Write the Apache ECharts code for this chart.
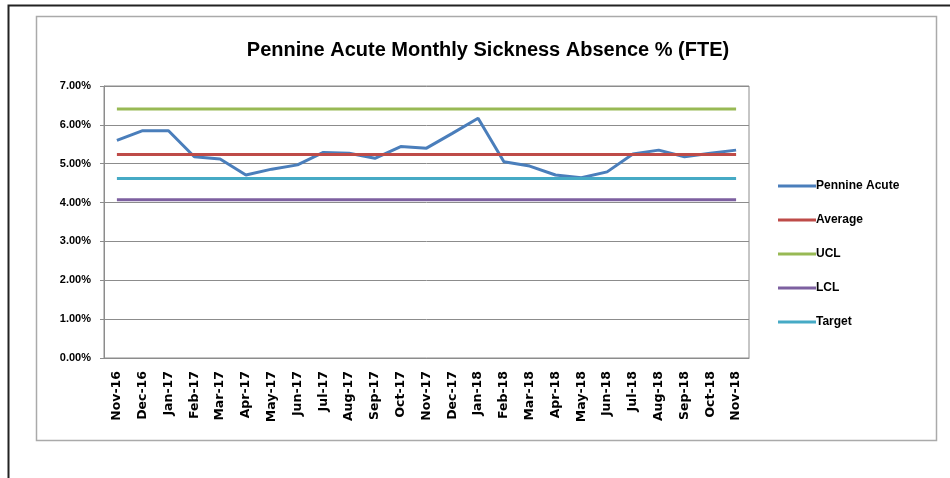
<!DOCTYPE html>
<html>
<head>
<meta charset="utf-8">
<script src="https://cdn.jsdelivr.net/npm/echarts@6/dist/echarts.min.js"></script>
<style>
  html, body { margin: 0; padding: 0; background: #fff; }
  #chart { width: 950px; height: 478px; }
</style>
</head>
<body>
<div id="chart"></div>
<script>
const MONTHS = [
  "Nov-16", "Dec-16", "Jan-17", "Feb-17", "Mar-17", "Apr-17", "May-17", "Jun-17",
  "Jul-17", "Aug-17", "Sep-17", "Oct-17", "Nov-17", "Dec-17", "Jan-18", "Feb-18",
  "Mar-18", "Apr-18", "May-18", "Jun-18", "Jul-18", "Aug-18", "Sep-18", "Oct-18", "Nov-18",
];

// monthly sickness absence, percent
const PENNINE_ACUTE = [
  5.60, 5.85, 5.85, 5.18, 5.12, 4.71, 4.86, 4.97,
  5.29, 5.27, 5.14, 5.44, 5.40, 5.78, 6.17, 5.05,
  4.94, 4.71, 4.64, 4.79, 5.25, 5.35, 5.18, 5.27, 5.35,
];

const AVERAGE = 5.24;
const UCL = 6.41;
const LCL = 4.07;
const TARGET = 4.62;

const Y_TICKS = [0, 1, 2, 3, 4, 5, 6, 7];

const COLORS = {
  acute: "#4a7ebb",
  average: "#be4b48",
  ucl: "#98b954",
  lcl: "#7d60a0",
  target: "#46aac5",
};

const FONT = "Liberation Sans, Arial, sans-serif";

const flat = (v) => MONTHS.map(() => v);

function line(name, data, color) {
  return {
    name,
    type: "line",
    data,
    symbol: "none",
    smooth: false,
    color,
    lineStyle: { width: 3, color },
    animation: false,
  };
}

const chart = echarts.init(document.getElementById("chart"), null, { renderer: "canvas" });

chart.setOption({
  backgroundColor: "#fff",
  animation: false,
  title: {
    text: "Pennine Acute Monthly Sickness Absence % (FTE)",
    left: 483,
    textAlign: "center",
    top: 35,
    textStyle: {
      fontFamily: FONT,
      fontSize: 20,
      fontWeight: "bold",
      color: "#000",
    },
  },
  graphic: [
    {
      type: "polyline",
      shape: { points: [[8.5, 478], [8.5, 5.5], [950, 5.5]] },
      style: { stroke: "#222", lineWidth: 2, fill: null },
      silent: true,
    },
    {
      type: "rect",
      shape: { x: 36.5, y: 16.5, width: 900, height: 424 },
      style: { stroke: "#aaa", lineWidth: 1.5, fill: null },
      silent: true,
    },
  ],
  legend: {
    orient: "vertical",
    left: 773,
    top: 175,
    itemGap: 22,
    itemWidth: 38,
    itemHeight: 3,
    icon: "rect",
    data: ["Pennine Acute", "Average", "UCL", "LCL", "Target"],
    textStyle: {
      fontFamily: FONT,
      fontSize: 12,
      fontWeight: "bold",
      color: "#000",
      padding: [0, 0, 0, -5],
    },
  },
  grid: {
    left: 104,
    right: 201,
    top: 86,
    bottom: 120,
    show: true,
    borderColor: "#8c8c8c",
    borderWidth: 1,
  },
  xAxis: {
    type: "category",
    data: MONTHS,
    boundaryGap: true,
    axisLine: { lineStyle: { color: "#8c8c8c" } },
    axisTick: { show: false },
    axisLabel: {
      rotate: 90,
      interval: 0,
      margin: 13,
      fontFamily: "DejaVu Sans, sans-serif",
      fontSize: 12.5,
      fontWeight: "bold",
      color: "#000",
    },
  },
  yAxis: {
    type: "value",
    min: Y_TICKS[0],
    max: Y_TICKS[Y_TICKS.length - 1],
    interval: 1,
    axisLine: { show: true, lineStyle: { color: "#8c8c8c" } },
    axisTick: { show: true, length: 4, inside: false, lineStyle: { color: "#8c8c8c" } },
    axisLabel: {
      margin: 13,
      fontFamily: FONT,
      fontSize: 11,
      fontWeight: "bold",
      color: "#000",
      formatter: (v) => v.toFixed(2) + "%",
    },
    splitLine: { lineStyle: { color: "#8c8c8c", width: 1 } },
  },
  series: [
    line("Pennine Acute", PENNINE_ACUTE, COLORS.acute),
    line("Average", flat(AVERAGE), COLORS.average),
    line("UCL", flat(UCL), COLORS.ucl),
    line("LCL", flat(LCL), COLORS.lcl),
    line("Target", flat(TARGET), COLORS.target),
  ],
});
</script>
</body>
</html>
